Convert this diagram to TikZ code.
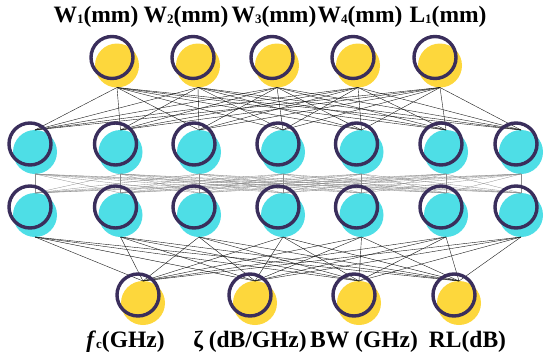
\documentclass[tikz,border=0pt]{standalone}
\usepackage{fontspec}
\setmainfont{Liberation Serif}
\definecolor{ringc}{RGB}{58,46,92}
\definecolor{yel}{RGB}{253,215,60}
\definecolor{cya}{RGB}{78,222,230}
\newcommand{\lowsub}[1]{\raisebox{-0.15ex}{\fontsize{13}{13}\selectfont #1}}
\begin{document}
\begin{tikzpicture}[x=1pt,y=-1pt,
  ring/.style={circle, draw=ringc, line width=3.4pt, minimum size=42pt, inner sep=0pt},
  yfill/.style={circle, fill=yel, minimum size=44pt, inner sep=0pt, outer sep=0pt},
  cfill/.style={circle, fill=cya, minimum size=44pt, inner sep=0pt, outer sep=0pt},
  wire/.style={black!90, line width=0.4pt},
  lwire/.style={black!45, line width=0.3pt},
  lbl/.style={anchor=base, inner sep=0pt, font=\fontsize{23.5}{26}\selectfont\bfseries}]
\useasboundingbox (0,0) rectangle (550,362);
% fills
\foreach \x [count=\i] in {112,193,272,353,435}
  \node[yfill] (ft\i) at (\x+5,65.5) {};
\foreach \x [count=\i] in {30,115.5,194,278,356.5,441,516}{
  \node[cfill] (fa\i) at (\x+5,152) {};
  \node[cfill] (fb\i) at (\x+5,215) {};
}
\foreach \x [count=\i] in {138,250,354,454}
  \node[yfill] (fo\i) at (\x+5,303) {};
% connections
\foreach \i in {1,...,5}
  \foreach \j in {1,...,7}
    \draw[wire] (ft\i.south) -- (fa\j.north);
\foreach \i in {1,...,7}
  \foreach \j in {1,...,7}
    \draw[lwire] (fa\i.south) -- (fb\j.north);
\foreach \i in {1,...,7}
  \foreach \j in {1,...,4}
    \draw[wire] (fb\i.south) -- (fo\j.north);
% rings
\foreach \x [count=\i] in {112,193,272,353,435}
  \node[ring] (t\i) at (\x,57.5) {};
\foreach \x [count=\i] in {30,115.5,194,278,356.5,441,516}{
  \node[ring] (ha\i) at (\x,144) {};
  \node[ring] (hb\i) at (\x,207) {};
}
\foreach \x [count=\i] in {138,250,354,454}
  \node[ring] (o\i) at (\x,295) {};
% labels
\node[lbl] (l1) at (96,22) {W\lowsub{1}(mm)};
\node[lbl] (l2) at (186,22) {W\lowsub{2}(mm)};
\node[lbl] (l3) at (274,22) {W\lowsub{3}(mm)};
\node[lbl] (l4) at (360,22) {W\lowsub{4}(mm)};
\node[lbl] (l5) at (448,22) {L\lowsub{1}(mm)};
\node[lbl] (m1) at (125.5,347) {\textit{f}\lowsub{c}(GHz)};
\node[lbl] (m2) at (250,347) {ζ (dB/GHz)};
\node[lbl] (m3) at (364,347) {BW (GHz)};
\node[lbl] (m4) at (467.5,347) {RL(dB)};
\end{tikzpicture}
\end{document}
